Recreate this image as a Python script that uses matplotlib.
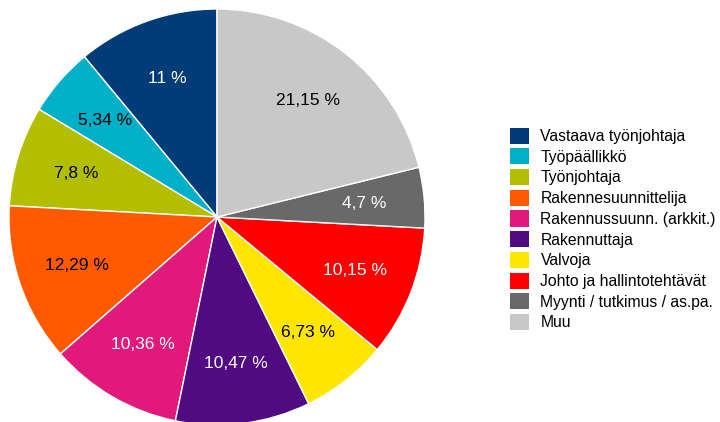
import matplotlib
matplotlib.use("Agg")
import matplotlib.pyplot as plt

plt.rcParams['font.family'] = ['Liberation Sans', 'DejaVu Sans']

# pie data, in legend order (drawn counterclockwise from 12 o'clock)
categories = ["Vastaava työnjohtaja", "Työpäällikkö", "Työnjohtaja",
              "Rakennesuunnittelija", "Rakennussuunn. (arkkit.)", "Rakennuttaja",
              "Valvoja", "Johto ja hallintotehtävät", "Myynti / tutkimus / as.pa.",
              "Muu"]
shares = [11, 5.34, 7.8, 12.29, 10.36, 10.47, 6.73, 10.15, 4.7, 21.15]
colors = ["#003c78", "#00b0c8", "#b4be00", "#ff5a00", "#e0197a",
          "#500a82", "#ffe600", "#ff0000", "#696969", "#c8c8c8"]
text_colors = ["white", "black", "black", "black", "white",
               "white", "black", "white", "white", "black"]

pct_labels = iter([f"{v:g}".replace(".", ",") + " %" for v in shares])

fig = plt.figure(figsize=(7.2, 4.22), dpi=100)
ax = fig.add_axes([9 / 720, -3 / 422, 416 / 720, 416 / 422])

wedges, texts, autotexts = ax.pie(
    shares, colors=colors, startangle=90, counterclock=True,
    autopct=lambda p: next(pct_labels), pctdistance=0.71,
    wedgeprops=dict(edgecolor="white", linewidth=1),
    textprops=dict(fontsize=12.5))
for t, c in zip(autotexts, text_colors):
    t.set_color(c)
for w in wedges:
    w.set_clip_on(False)
ax.set_xlim(-1, 1)
ax.set_ylim(-1, 1)

leg = fig.legend(wedges, categories, loc="center left",
                 bbox_to_anchor=(502 / 720, 1 - 229 / 422),
                 frameon=False, fontsize=11.3, handlelength=1.2,
                 handleheight=1.2, labelspacing=0.28, handletextpad=0.75,
                 borderpad=0)
for h in leg.legend_handles:
    h.set_edgecolor("none")

fig.savefig("out.png", dpi=100)
